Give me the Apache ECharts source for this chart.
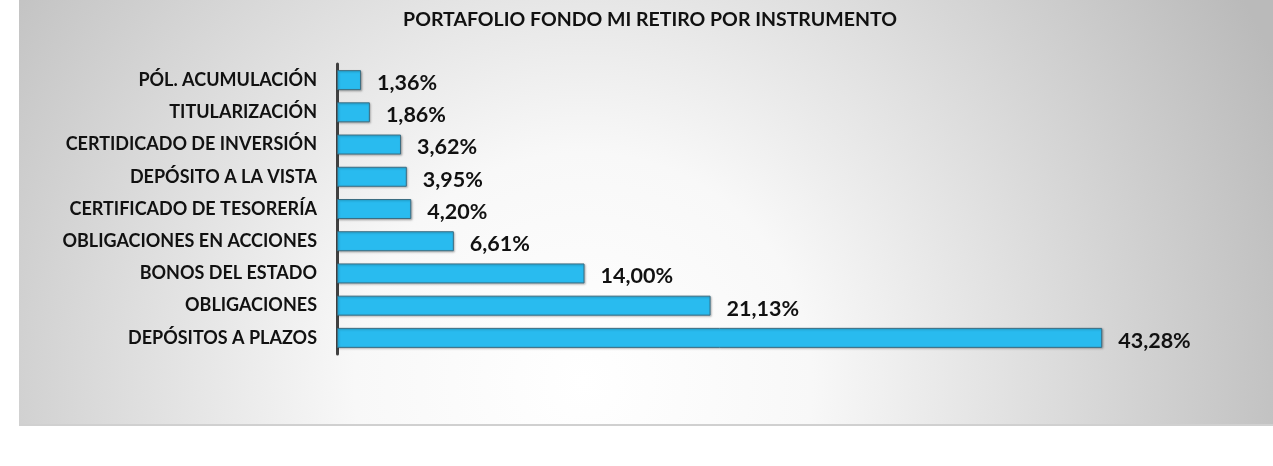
<!DOCTYPE html>
<html>
<head>
<meta charset="utf-8">
<script src="https://cdn.jsdelivr.net/npm/echarts@6/dist/echarts.min.js"></script>
<style>
  html, body { margin: 0; padding: 0; background: #fff; }
  #chart { width: 1273px; height: 466px; }
</style>
</head>
<body>
<div id="chart"></div>
<script>
// data, top to bottom as shown
const categories = [
  "PÓL. ACUMULACIÓN",
  "TITULARIZACIÓN",
  "CERTIDICADO DE INVERSIÓN",
  "DEPÓSITO A LA VISTA",
  "CERTIFICADO DE TESORERÍA",
  "OBLIGACIONES EN ACCIONES",
  "BONOS DEL ESTADO",
  "OBLIGACIONES",
  "DEPÓSITOS A PLAZOS"
];
const values = [1.36, 1.86, 3.62, 3.95, 4.20, 6.61, 14.00, 21.13, 43.28];
const titleText = "PORTAFOLIO FONDO MI RETIRO POR INSTRUMENTO";

const fontFam = "Lato, 'Open Sans', sans-serif";
const chart = echarts.init(document.getElementById("chart"));

chart.setOption({
  animation: false,
  graphic: [
    {
      type: "rect",
      z: -10,
      shape: { x: 19, y: 0, width: 1254, height: 424 },
      style: {
        fill: new echarts.graphic.RadialGradient(0.45, 0.9, 1.8, [
          { offset: 0, color: "#ffffff" },
          { offset: 0.3, color: "#f8f8f8" },
          { offset: 1, color: "#bababa" }
        ]),
        stroke: null
      }
    },
    {
      type: "rect",
      z: -9,
      shape: { x: 19, y: 424, width: 1254, height: 2 },
      style: { fill: "#d0d0d0" }
    }
  ],
  title: {
    text: titleText,
    left: 645,
    textAlign: "center",
    top: 5,
    textStyle: {
      fontFamily: fontFam,
      fontWeight: "bold",
      fontSize: 19.5,
      color: "#111"
    }
  },
  grid: {
    left: 337,
    top: 64,
    width: 884,
    height: 290,
    containLabel: false
  },
  xAxis: {
    type: "value",
    min: 0,
    max: 50,
    show: false
  },
  yAxis: {
    type: "category",
    data: categories,
    inverse: true,
    axisLine: { show: true, lineStyle: { color: "#404040", width: 3 } },
    axisTick: { show: false },
    axisLabel: {
      fontFamily: fontFam,
      fontWeight: "bold",
      fontSize: 18,
      color: "#111",
      margin: 20
    }
  },
  series: [
    {
      type: "bar",
      data: values,
      barWidth: 20,
      itemStyle: {
        color: "#29bbef",
        borderColor: "#3b6d82",
        borderWidth: 1,
        shadowColor: "rgba(0,0,0,0.25)",
        shadowBlur: 2,
        shadowOffsetX: 1,
        shadowOffsetY: 1
      },
      label: {
        show: true,
        position: "right",
        distance: 16,
        fontFamily: fontFam,
        fontWeight: "bold",
        fontSize: 21.5,
        color: "#111",
        offset: [0, 3],
        formatter: p => p.value.toFixed(2).replace(".", ",") + "%"
      }
    }
  ]
});
</script>
</body>
</html>
